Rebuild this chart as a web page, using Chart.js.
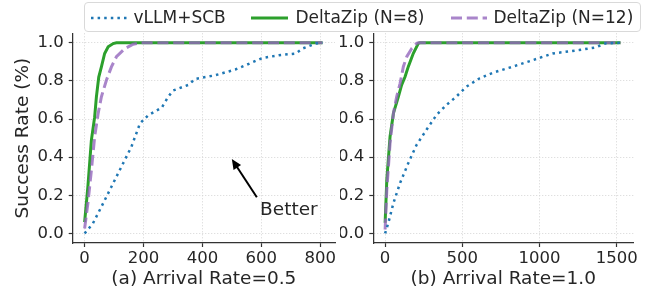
<!DOCTYPE html>
<html>
<head>
<meta charset="utf-8">
<script src="https://cdn.jsdelivr.net/npm/chart.js@4/dist/chart.umd.min.js"></script>
<style>
  body { margin: 0; background: #fff; font-family: "DejaVu Sans", sans-serif; color: #262626; }
  #wrap { position: relative; width: 649px; height: 296px; overflow: hidden; }
  .box { position: absolute; top: 0; height: 296px; }
  #legend { position: absolute; left: 83.5px; top: 1.5px; width: 555px; height: 28px;
            border: 1px solid #d9d9d9; border-radius: 4px; background: rgba(255,255,255,0.85); }
  .lt { position: absolute; top: 4px; font-size: 17px; line-height: 20px; white-space: nowrap; }
  .ls { position: absolute; top: 11px; }
</style>
</head>
<body>
<div id="wrap">
  <div class="box" style="left:0;width:340px"><canvas id="c1" width="340" height="296"></canvas></div>
  <div class="box" style="left:340px;width:309px"><canvas id="c2" width="309" height="296"></canvas></div>
  <div id="legend">
    <svg class="ls" style="left:6px" width="36" height="8"><line x1="0" y1="4" x2="36" y2="4" stroke="#1f77b4" stroke-width="2.5" stroke-dasharray="2.5 4.1"/></svg>
    <span class="lt" style="left:49px">vLLM+SCB</span>
    <svg class="ls" style="left:166px" width="37" height="8"><line x1="0" y1="4" x2="37" y2="4" stroke="#2ca02c" stroke-width="3"/></svg>
    <span class="lt" style="left:211px">DeltaZip (N=8)</span>
    <svg class="ls" style="left:366px" width="36" height="8"><line x1="0" y1="4" x2="36" y2="4" stroke="#9467bd" stroke-opacity="0.8" stroke-width="3" stroke-dasharray="11 4.8"/></svg>
    <span class="lt" style="left:409px">DeltaZip (N=12)</span>
  </div>
</div>
<script>
const seriesNames = ['vLLM+SCB', 'DeltaZip (N=8)', 'DeltaZip (N=12)'];

// (a) arrival rate 0.5
const rateA_x_scb = [0, 28, 57, 91, 125, 159, 188, 216, 262, 284, 301, 353, 375, 444, 512, 558, 603, 660, 717, 740, 785, 808];
const rateA_y_scb = [0, 0.052, 0.14, 0.245, 0.35, 0.455, 0.577, 0.62, 0.66, 0.717, 0.75, 0.78, 0.81, 0.83, 0.86, 0.89, 0.92, 0.935, 0.944, 0.97, 0.996, 1.0];
const rateA_x_n8 = [0, 11, 23, 34, 40, 48, 57, 68, 80, 97, 108, 808];
const rateA_y_n8 = [0.06, 0.245, 0.49, 0.61, 0.717, 0.82, 0.874, 0.944, 0.979, 0.996, 1.0, 1.0];
const rateA_x_n12 = [0, 11, 23, 34, 46, 57, 74, 91, 108, 137, 165, 193, 808];
const rateA_y_n12 = [0.026, 0.157, 0.332, 0.507, 0.63, 0.717, 0.804, 0.874, 0.927, 0.97, 0.993, 1.0, 1.0];

// (b) arrival rate 1.0
const rateB_x_scb = [0, 21, 54, 97, 150, 204, 268, 333, 397, 461, 526, 612, 697, 826, 955, 1084, 1255, 1363, 1427, 1524];
const rateB_y_scb = [0, 0.056, 0.16, 0.265, 0.369, 0.465, 0.544, 0.622, 0.674, 0.718, 0.77, 0.814, 0.843, 0.875, 0.909, 0.944, 0.962, 0.976, 0.997, 1.0];
const rateB_x_n8 = [0, 11, 32, 54, 86, 107, 129, 150, 182, 215, 225, 1524];
const rateB_y_n8 = [0.056, 0.282, 0.509, 0.631, 0.718, 0.779, 0.822, 0.875, 0.944, 0.997, 1.0, 1.0];
const rateB_x_n12 = [0, 11, 32, 54, 75, 97, 118, 140, 172, 204, 215, 1524];
const rateB_y_n12 = [0.021, 0.23, 0.474, 0.631, 0.718, 0.788, 0.875, 0.927, 0.97, 0.997, 1.0, 1.0];

const yTicks = [0, 0.2, 0.4, 0.6, 0.8, 1.0];
const xTicksA = [0, 200, 400, 600, 800];
const xTicksB = [0, 500, 1000, 1500];

const TXT = '#262626';
const FONT = 'DejaVu Sans';

function pts(xs, ys) {
  return xs.map((x, i) => ({ x: x, y: ys[i] }));
}

function makeDatasets(xs1, ys1, xs2, ys2, xs3, ys3) {
  return [
    { label: seriesNames[0], data: pts(xs1, ys1), borderColor: '#1f77b4', borderWidth: 2.5,
      borderDash: [2.5, 4.1], order: 0 },
    { label: seriesNames[1], data: pts(xs2, ys2), borderColor: '#2ca02c', borderWidth: 3, order: 2 },
    { label: seriesNames[2], data: pts(xs3, ys3), borderColor: 'rgba(148,103,189,0.8)', borderWidth: 3,
      borderDash: [11, 4.8], order: 1 }
  ];
}

// arrow + "Better" label on the first panel
const betterArrow = {
  id: 'betterArrow',
  afterDatasetsDraw(chart) {
    const xs = chart.scales.x, ys = chart.scales.y;
    const x0 = xs.getPixelForValue(585), y0 = ys.getPixelForValue(0.19);
    const x1 = xs.getPixelForValue(500), y1 = ys.getPixelForValue(0.39);
    const ctx = chart.ctx;
    const ang = Math.atan2(y1 - y0, x1 - x0);
    const hl = 10, hw = 4.5;
    ctx.save();
    ctx.strokeStyle = '#000';
    ctx.fillStyle = '#000';
    ctx.lineWidth = 2;
    ctx.beginPath();
    ctx.moveTo(x0, y0);
    ctx.lineTo(x1 - Math.cos(ang) * hl * 0.8, y1 - Math.sin(ang) * hl * 0.8);
    ctx.stroke();
    ctx.beginPath();
    ctx.moveTo(x1, y1);
    ctx.lineTo(x1 - Math.cos(ang) * hl + Math.sin(ang) * hw, y1 - Math.sin(ang) * hl - Math.cos(ang) * hw);
    ctx.lineTo(x1 - Math.cos(ang) * hl - Math.sin(ang) * hw, y1 - Math.sin(ang) * hl + Math.cos(ang) * hw);
    ctx.closePath();
    ctx.fill();
    ctx.fillStyle = TXT;
    ctx.font = '18.5px "' + FONT + '"';
    ctx.textBaseline = 'alphabetic';
    ctx.textAlign = 'left';
    ctx.fillText('Better', xs.getPixelForValue(596), ys.getPixelForValue(0.097));
    ctx.restore();
  }
};

function makeChart(id, datasets, xTicks, xMin, xMax, xTitle, yWidth, padRight, showYTitle, plugins) {
  return new Chart(document.getElementById(id), {
    type: 'line',
    data: { datasets: datasets },
    plugins: plugins,
    options: {
      responsive: false,
      animation: false,
      devicePixelRatio: 1,
      layout: { padding: { left: 0, right: padRight, top: 33.3, bottom: 0 } },
      elements: { point: { radius: 0 }, line: { tension: 0, fill: false, borderCapStyle: 'butt' } },
      plugins: { legend: { display: false }, tooltip: { enabled: false } },
      scales: {
        x: {
          type: 'linear', min: xMin, max: xMax,
          afterBuildTicks: s => { s.ticks = xTicks.map(v => ({ value: v })); },
          afterFit: s => { s.height = 53; },
          grid: { color: '#d4d4d4', lineWidth: 1, tickColor: '#333', tickLength: 4, tickWidth: 1.2 },
          border: { display: true, color: '#333', width: 1.25, dash: [1, 2] },
          ticks: { color: TXT, font: { family: FONT, size: 16.5 }, padding: 2, maxRotation: 0,
                   callback: v => String(v) },
          title: { display: true, text: xTitle, color: TXT, font: { family: FONT, size: 18.5 },
                   padding: { top: 0, bottom: 6 } }
        },
        y: {
          type: 'linear', min: -0.05, max: 1.05,
          afterBuildTicks: s => { s.ticks = yTicks.map(v => ({ value: v })); },
          afterFit: s => { s.width = yWidth; },
          grid: { color: '#d4d4d4', lineWidth: 1, tickColor: '#333', tickLength: 4, tickWidth: 1.2 },
          border: { display: true, color: '#333', width: 1.25, dash: [1, 2] },
          ticks: { color: TXT, font: { family: FONT, size: 16.5 }, padding: 5,
                   callback: v => v.toFixed(1) },
          title: { display: showYTitle, text: 'Success Rate (%)', color: TXT,
                   font: { family: FONT, size: 18.5 }, padding: { top: 12, bottom: 0 } }
        }
      }
    }
  });
}

makeChart('c1', makeDatasets(rateA_x_scb, rateA_y_scb, rateA_x_n8, rateA_y_n8, rateA_x_n12, rateA_y_n12),
  xTicksA, -40.5, 850.5, '(a) Arrival Rate=0.5', 72.7, 5, true, [betterArrow]);
makeChart('c2', makeDatasets(rateB_x_scb, rateB_y_scb, rateB_x_n8, rateB_y_n8, rateB_x_n12, rateB_y_n12),
  xTicksB, -76.5, 1606.5, '(b) Arrival Rate=1.0', 33.3, 15.7, false, []);
</script>
</body>
</html>
